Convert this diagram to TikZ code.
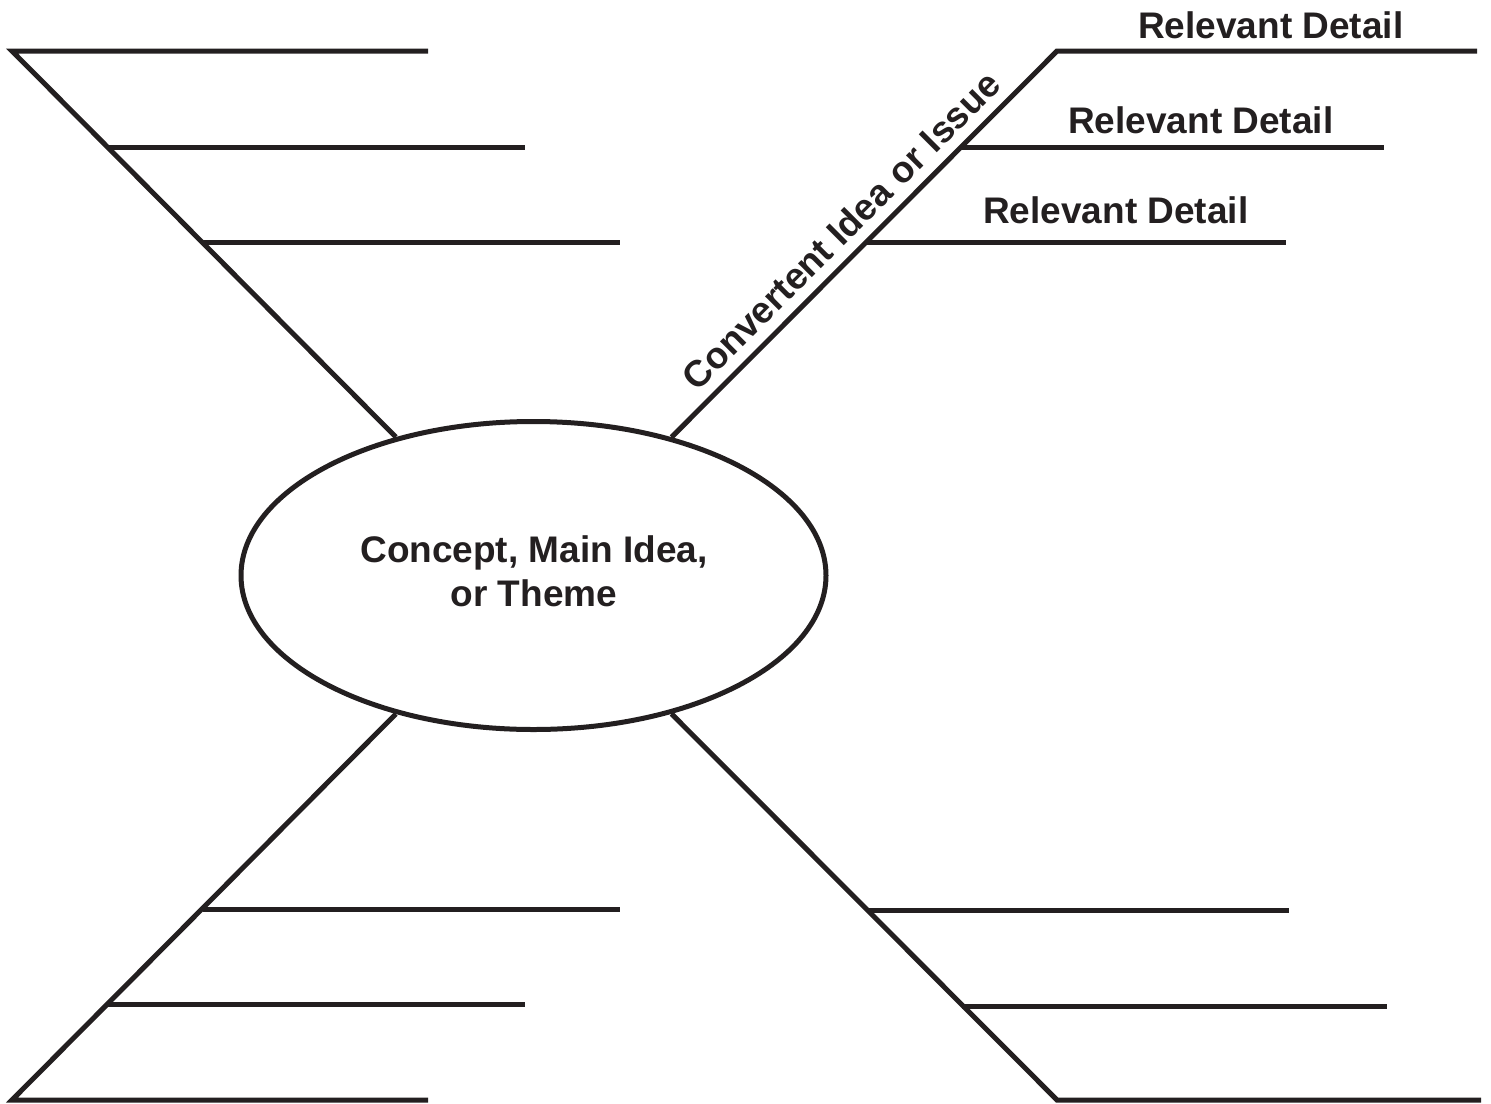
\documentclass[tikz,border=0pt]{standalone}
\usepackage{fontspec}
\setmainfont{Liberation Sans}
\usetikzlibrary{shapes.geometric}
\definecolor{ink}{HTML}{231F20}
\begin{document}
\begin{tikzpicture}[x=1pt,y=-1pt]
\tikzset{
  ln/.style={line width=5pt, draw=ink, line join=miter, line cap=butt},
  lbl/.style={font=\bfseries\fontsize{37}{44}\selectfont, text=ink, inner sep=0pt},
  hub/.style={ellipse, draw=ink, line width=5pt, minimum width=585pt, minimum height=308pt, inner sep=0pt}
}
\useasboundingbox (0,0) rectangle (1491,1103);
\node[hub] (ell) at (533.5,575.5) {};
\node[lbl, align=center] (hubtext) at (534,571) {Concept, Main Idea,\\or Theme};
% corners
\coordinate (ulA) at (12,51);
\coordinate (urA) at (1057,51);
\coordinate (llA) at (12,1100);
\coordinate (lrA) at (1057,1100);
% upper left
\coordinate (ulAe) at (428,51);
\coordinate (ulB) at (108,147);
\coordinate (ulBe) at (525,147);
\coordinate (ulC) at (203,242);
\coordinate (ulCe) at (620,242);
% upper right
\coordinate (urAe) at (1477,51);
\coordinate (urB) at (961,147);
\coordinate (urBe) at (1384,147);
\coordinate (urC) at (866,242);
\coordinate (urCe) at (1286,242);
% lower left
\coordinate (llAe) at (428,1100);
\coordinate (llB) at (108,1004);
\coordinate (llBe) at (525,1004);
\coordinate (llC) at (203,909);
\coordinate (llCe) at (620,909);
% lower right
\coordinate (lrAe) at (1481,1100);
\coordinate (lrB) at (962,1006);
\coordinate (lrBe) at (1387,1006);
\coordinate (lrC) at (867,910);
\coordinate (lrCe) at (1289,910);

\draw[ln] (ulAe) -- (ulA) -- (ell);
\draw[ln] (ulB) -- (ulBe);
\draw[ln] (ulC) -- (ulCe);
\draw[ln] (urAe) -- (urA) -- (ell);
\draw[ln] (urB) -- (urBe);
\draw[ln] (urC) -- (urCe);
\draw[ln] (llAe) -- (llA) -- (ell);
\draw[ln] (llB) -- (llBe);
\draw[ln] (llC) -- (llCe);
\draw[ln] (lrAe) -- (lrA) -- (ell);
\draw[ln] (lrB) -- (lrBe);
\draw[ln] (lrC) -- (lrCe);

\node[lbl, anchor=base west] (rd1) at (1138,38) {Relevant Detail};
\node[lbl, anchor=base west] (rd2) at (1068,133) {Relevant Detail};
\node[lbl, anchor=base west] (rd3) at (983,223) {Relevant Detail};
\node[lbl, anchor=base, rotate=45] (issue) at (850,240) {Convertent Idea or Issue};
\end{tikzpicture}
\end{document}
